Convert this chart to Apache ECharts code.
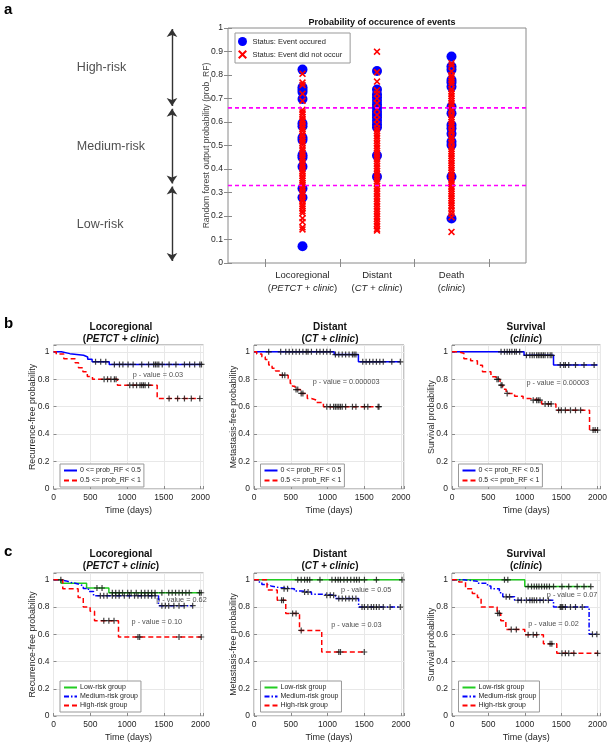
<!DOCTYPE html>
<html><head><meta charset="utf-8">
<script src="https://cdn.jsdelivr.net/npm/echarts@6/dist/echarts.min.js"></script>
<style>html,body{margin:0;padding:0;background:#fff}#c{width:610px;height:743px}</style>
</head><body><div id="c"></div><script>
// ---------- Panel a data ----------
const catPos = [1, 2, 3];
const catNames = ['Locoregional', 'Distant', 'Death'];
const catSub = ['PETCT + clinic', 'CT + clinic', 'clinic'];
const riskBounds = [1, 0.66, 0.33, 0];
const riskLabels = ['High-risk', 'Medium-risk', 'Low-risk'];
const thresholds = [0.66, 0.33];

const locoEvent = [0.823, 0.748, 0.737, 0.728, 0.698, 0.594, 0.582, 0.533, 0.523, 0.459, 0.449, 0.41, 0.317, 0.279, 0.071];
const locoNoEvent = [0.805, 0.768, 0.757, 0.72, 0.69, 0.652, 0.641, 0.633, 0.622, 0.611, 0.603, 0.592, 0.58, 0.571, 0.562, 0.55, 0.541, 0.529, 0.519, 0.511, 0.5, 0.488, 0.479, 0.47, 0.46, 0.449, 0.44, 0.428, 0.419, 0.41, 0.398, 0.389, 0.381, 0.37, 0.36, 0.351, 0.34, 0.331, 0.322, 0.311, 0.3, 0.292, 0.281, 0.27, 0.262, 0.25, 0.241, 0.232, 0.221, 0.212, 0.19, 0.175, 0.152, 0.143];
const distEvent = [0.817, 0.738, 0.718, 0.705, 0.69, 0.675, 0.66, 0.645, 0.632, 0.62, 0.605, 0.59, 0.578, 0.457, 0.367];
const distNoEvent = [0.899, 0.812, 0.772, 0.735, 0.72, 0.70, 0.68, 0.655, 0.63, 0.61, 0.59, 0.573, 0.562, 0.551, 0.54, 0.531, 0.52, 0.509, 0.498, 0.488, 0.477, 0.466, 0.455, 0.444, 0.434, 0.423, 0.412, 0.402, 0.391, 0.38, 0.37, 0.359, 0.348, 0.338, 0.327, 0.316, 0.305, 0.295, 0.284, 0.273, 0.262, 0.252, 0.241, 0.23, 0.22, 0.209, 0.198, 0.188, 0.177, 0.166, 0.156, 0.145, 0.138];
const deathEvent = [0.879, 0.836, 0.822, 0.779, 0.768, 0.75, 0.665, 0.637, 0.587, 0.573, 0.55, 0.516, 0.502, 0.367, 0.189];
const deathNoEvent = [0.85, 0.84, 0.815, 0.80, 0.79, 0.78, 0.77, 0.76, 0.74, 0.73, 0.72, 0.71, 0.70, 0.69, 0.68, 0.67, 0.655, 0.645, 0.63, 0.62, 0.61, 0.6, 0.59, 0.58, 0.565, 0.555, 0.54, 0.53, 0.52, 0.51, 0.495, 0.485, 0.475, 0.465, 0.455, 0.445, 0.435, 0.425, 0.415, 0.405, 0.395, 0.385, 0.375, 0.365, 0.355, 0.345, 0.335, 0.325, 0.315, 0.305, 0.295, 0.285, 0.275, 0.265, 0.255, 0.245, 0.235, 0.222, 0.21, 0.195, 0.132];

// ---------- Panel b data (times in days, survival) ----------
const bLocoLowT = [0, 107, 223, 409, 465, 525, 758, 2013];
const bLocoLowS = [1, 0.987, 0.975, 0.963, 0.947, 0.927, 0.908, 0.908];
const bLocoLowC = [572, 642, 711, 828, 897, 944, 1014, 1083, 1200, 1293, 1362, 1386, 1409, 1432, 1479, 1572, 1665, 1781, 1851, 1920, 1990, 2013];
const bLocoHighT = [0, 37, 140, 293, 340, 400, 460, 530, 870, 1410, 1990];
const bLocoHighS = [1, 0.985, 0.95, 0.92, 0.885, 0.855, 0.82, 0.80, 0.757, 0.66, 0.66];
const bLocoHighC = [688, 735, 781, 828, 851, 1037, 1083, 1130, 1176, 1200, 1223, 1246, 1293, 1572, 1688, 1781, 1874, 1990];

const bDistLowT = [0, 1090, 1420, 1990];
const bDistLowS = [1, 0.98, 0.927, 0.927];
const bDistLowC = [200, 363, 432, 479, 525, 572, 618, 665, 711, 735, 781, 851, 897, 944, 990, 1037, 1107, 1153, 1200, 1246, 1293, 1339, 1362, 1386, 1479, 1525, 1572, 1618, 1665, 1711, 1758, 1874, 1990];
const bDistHighT = [0, 37, 107, 153, 200, 246, 293, 353, 465, 493, 525, 558, 632, 725, 781, 851, 944, 1700];
const bDistHighS = [1, 0.985, 0.965, 0.945, 0.905, 0.88, 0.86, 0.83, 0.805, 0.77, 0.75, 0.725, 0.697, 0.66, 0.648, 0.63, 0.60, 0.60];
const bDistHighC = [386, 419, 572, 595, 642, 665, 990, 1037, 1083, 1107, 1130, 1153, 1176, 1200, 1246, 1339, 1386, 1502, 1548, 1688, 1700];

const bSurvLowT = [0, 990, 1395, 2000];
const bSurvLowS = [1, 0.975, 0.905, 0.905];
const bSurvLowC = [674, 721, 758, 791, 823, 860, 884, 930, 1023, 1070, 1102, 1130, 1163, 1186, 1209, 1232, 1256, 1279, 1316, 1349, 1372, 1488, 1535, 1558, 1604, 1697, 1814, 1953];
const bSurvHighT = [0, 93, 163, 256, 349, 419, 535, 605, 660, 698, 744, 860, 977, 1070, 1232, 1428, 1890, 2000];
const bSurvHighS = [1, 0.99, 0.95, 0.935, 0.903, 0.855, 0.818, 0.80, 0.757, 0.728, 0.697, 0.677, 0.66, 0.648, 0.62, 0.575, 0.43, 0.43];
const bSurvHighC = [618, 637, 674, 688, 758, 1116, 1163, 1186, 1209, 1279, 1325, 1362, 1465, 1502, 1558, 1628, 1697, 1767, 1939, 1967, 2000];

// ---------- Panel c data ----------
const cLocoLowT = [0, 102, 450, 753, 2009];
const cLocoLowS = [1, 0.975, 0.94, 0.905, 0.905];
const cLocoLowC = [591, 660, 800, 846, 893, 939, 1009, 1056, 1125, 1195, 1242, 1288, 1335, 1381, 1474, 1567, 1614, 1660, 1707, 1753, 1800, 1846, 1986, 2009];
const cLocoMedT = [0, 56, 172, 242, 335, 405, 475, 545, 1428, 1893];
const cLocoMedS = [1, 0.992, 0.98, 0.97, 0.956, 0.937, 0.915, 0.883, 0.81, 0.81];
const cLocoMedC = [637, 684, 730, 800, 846, 893, 963, 1032, 1102, 1149, 1195, 1242, 1288, 1335, 1381, 1474, 1521, 1567, 1637, 1707, 1777, 1893];
const cLocoHighT = [0, 126, 335, 405, 498, 558, 884, 2009];
const cLocoHighS = [1, 0.935, 0.87, 0.80, 0.77, 0.70, 0.58, 0.58];
const cLocoHighC = [100, 684, 753, 823, 1149, 1172, 1707, 2009];

const cDistLowT = [0, 2013];
const cDistLowS = [1, 1];
const cDistLowC = [595, 642, 688, 725, 758, 897, 1060, 1107, 1144, 1176, 1223, 1269, 1316, 1362, 1395, 1432, 1502, 1665, 2013];
const cDistMedT = [0, 60, 107, 177, 246, 360, 549, 642, 781, 921, 1107, 1423, 1990];
const cDistMedS = [1, 0.983, 0.966, 0.952, 0.942, 0.935, 0.918, 0.91, 0.894, 0.886, 0.862, 0.80, 0.80];
const cDistMedC = [409, 456, 688, 735, 990, 1037, 1083, 1153, 1200, 1246, 1293, 1339, 1386, 1469, 1502, 1548, 1595, 1628, 1665, 1702, 1758, 1851, 1990];
const cDistHighT = [0, 177, 316, 432, 619, 921, 1500];
const cDistHighS = [1, 0.925, 0.85, 0.753, 0.628, 0.47, 0.47];
const cDistHighC = [375, 400, 525, 572, 642, 1153, 1176, 1500];

const cSurvLowT = [0, 1000, 1907];
const cSurvLowS = [1, 0.95, 0.95];
const cSurvLowC = [721, 767, 1046, 1093, 1130, 1163, 1195, 1232, 1270, 1302, 1339, 1395, 1511, 1604, 1720, 1814, 1907];
const cSurvMedT = [0, 163, 349, 488, 535, 651, 698, 860, 1395, 1884, 1990];
const cSurvMedS = [1, 0.99, 0.975, 0.955, 0.935, 0.905, 0.875, 0.85, 0.80, 0.60, 0.60];
const cSurvMedC = [744, 791, 907, 953, 1023, 1070, 1102, 1130, 1163, 1209, 1256, 1325, 1488, 1502, 1521, 1558, 1628, 1697, 1790, 1930, 1990];
const cSurvHighT = [0, 93, 186, 279, 349, 400, 620, 670, 740, 1000, 1256, 1440, 2010];
const cSurvHighS = [1, 0.983, 0.935, 0.90, 0.87, 0.80, 0.754, 0.70, 0.636, 0.597, 0.53, 0.46, 0.46];
const cSurvHighC = [628, 651, 814, 884, 1046, 1116, 1163, 1348, 1372, 1511, 1558, 1604, 1674, 2000];

// p-value annotations [t, s, text]
const bLocoP = [[1420, 0.828, 'p - value = 0.03']];
const bDistP = [[1253, 0.777, 'p - value = 0.000003']];
const bSurvP = [[1453, 0.77, 'p - value = 0.00003']];
const cLocoP = [[1740, 0.854, 'p - value = 0.62'], [1405, 0.692, 'p - value = 0.10']];
const cDistP = [[1525, 0.928, 'p - value = 0.05'], [1393, 0.669, 'p - value = 0.03']];
const cSurvP = [[1650, 0.886, 'p - value = 0.07'], [1395, 0.676, 'p - value = 0.02']];

const xTicksKM = [0, 500, 1000, 1500, 2000];

// ---------- build ----------
const FONT = '"Liberation Sans", Arial, Helvetica, sans-serif';
const TXT = '#262626';
const BORDER = '#8a8a8a';
const NAME_EV = 'Status: Event occured';
const NAME_NEV = 'Status: Event did not occur';
const B_LOW = '0 <= prob_RF < 0.5', B_HIGH = '0.5 <= prob_RF < 1';
const C_LOW = 'Low-risk group', C_MED = 'Medium-risk group', C_HIGH = 'High-risk group';
const XSYM = 'path://M0,1.6L1.6,0L5,3.4L8.4,0L10,1.6L6.6,5L10,8.4L8.4,10L5,6.6L1.6,10L0,8.4L3.4,5Z';
const PLUS = 'path://M4,0H6V4H10V6H6V10H4V6H0V4H4Z';

const styleOf = {
  [B_LOW]: { color: '#0000ff', type: 'solid' },
  [B_HIGH]: { color: '#ff0000', type: [5, 3] },
  [C_LOW]: { color: '#22cc22', type: 'solid' },
  [C_MED]: { color: '#0000ff', type: [5, 2, 1.5, 2] },
  [C_HIGH]: { color: '#ff0000', type: [5, 3] }
};

function stepAt(T, S, t) {
  let v = S[0];
  for (let i = 0; i < T.length; i++) if (T[i] <= t) v = S[i];
  return v;
}

const kmPanels = [
  { left: 53.5, top: 345, tx: 116, ttop: 316, t1: 'Locoregional', t2: 'PETCT + clinic', yname: 'Recurrence-free probability',
    curves: [[B_LOW, bLocoLowT, bLocoLowS, bLocoLowC], [B_HIGH, bLocoHighT, bLocoHighS, bLocoHighC]], p: bLocoP, leg: [B_LOW, B_HIGH] },
  { left: 254, top: 345, tx: 325, ttop: 316, t1: 'Distant', t2: 'CT + clinic', yname: 'Metastasis-free probability',
    curves: [[B_LOW, bDistLowT, bDistLowS, bDistLowC], [B_HIGH, bDistHighT, bDistHighS, bDistHighC]], p: bDistP, leg: [B_LOW, B_HIGH] },
  { left: 452, top: 345, tx: 521, ttop: 316, t1: 'Survival', t2: 'clinic', yname: 'Survival probability',
    curves: [[B_LOW, bSurvLowT, bSurvLowS, bSurvLowC], [B_HIGH, bSurvHighT, bSurvHighS, bSurvHighC]], p: bSurvP, leg: [B_LOW, B_HIGH] },
  { left: 53.5, top: 573, tx: 116, ttop: 543, t1: 'Locoregional', t2: 'PETCT + clinic', yname: 'Recurrence-free probability',
    curves: [[C_LOW, cLocoLowT, cLocoLowS, cLocoLowC], [C_MED, cLocoMedT, cLocoMedS, cLocoMedC], [C_HIGH, cLocoHighT, cLocoHighS, cLocoHighC]], p: cLocoP, leg: [C_LOW, C_MED, C_HIGH] },
  { left: 254, top: 573, tx: 325, ttop: 543, t1: 'Distant', t2: 'CT + clinic', yname: 'Metastasis-free probability',
    curves: [[C_LOW, cDistLowT, cDistLowS, cDistLowC], [C_MED, cDistMedT, cDistMedS, cDistMedC], [C_HIGH, cDistHighT, cDistHighS, cDistHighC]], p: cDistP, leg: [C_LOW, C_MED, C_HIGH] },
  { left: 452, top: 573, tx: 521, ttop: 543, t1: 'Survival', t2: 'clinic', yname: 'Survival probability',
    curves: [[C_LOW, cSurvLowT, cSurvLowS, cSurvLowC], [C_MED, cSurvMedT, cSurvMedS, cSurvMedC], [C_HIGH, cSurvHighT, cSurvHighS, cSurvHighC]], p: cSurvP, leg: [C_LOW, C_MED, C_HIGH] }
];

const grids = [
  { left: 228, top: 28, width: 298, height: 235, show: true, borderColor: BORDER, borderWidth: 1 },
  { left: 60, top: 28, width: 140, height: 235 }
];
const xAxes = [
  { gridIndex: 0, type: 'value', min: 0, max: 4, position: 'bottom',
    axisLine: { show: false }, splitLine: { show: false },
    axisTick: { show: true, inside: true, length: 4, customValues: [0.5, 1.5, 2.5, 3.5], lineStyle: { color: BORDER } },
    axisLabel: { show: true, customValues: catPos, margin: 6, color: TXT, fontFamily: FONT,
      formatter: v => { const i = catPos.indexOf(v); return '{n|' + catNames[i] + '}\n{p|(}{i|' + catSub[i] + '}{p|)}'; },
      rich: { n: { fontSize: 9.5, lineHeight: 13, fontFamily: FONT, color: TXT },
              p: { fontSize: 9.5, lineHeight: 13, fontFamily: FONT, color: TXT },
              i: { fontSize: 9.5, lineHeight: 13, fontStyle: 'italic', fontFamily: FONT, color: TXT } } } },
  { gridIndex: 0, type: 'value', min: 0, max: 4, position: 'top',
    axisLine: { show: false }, splitLine: { show: false }, axisLabel: { show: false },
    axisTick: { show: true, inside: true, length: 4, customValues: [0.5, 1.5, 2.5, 3.5], lineStyle: { color: BORDER } } },
  { gridIndex: 1, type: 'value', min: 0, max: 1, show: false }
];
const yAxes = [
  { gridIndex: 0, type: 'value', min: 0, max: 1, interval: 0.1, position: 'left',
    name: 'Random forest output probability (prob_RF)', nameLocation: 'middle', nameGap: 17, nameMoveOverlap: false,
    nameTextStyle: { fontSize: 8.6, color: '#444', fontFamily: FONT },
    axisLine: { show: false }, splitLine: { show: false },
    axisTick: { show: true, inside: true, length: 4, lineStyle: { color: BORDER } },
    axisLabel: { color: TXT, fontSize: 8.6, fontFamily: FONT, margin: 5, formatter: v => String(+v.toFixed(1)) } },
  { gridIndex: 0, type: 'value', min: 0, max: 1, interval: 0.1, position: 'right',
    axisLine: { show: false }, splitLine: { show: false }, axisLabel: { show: false },
    axisTick: { show: true, inside: true, length: 4, lineStyle: { color: BORDER } } },
  { gridIndex: 1, type: 'value', min: 0, max: 1, show: false }
];

const series = [];
// panel a scatter
const evAll = [locoEvent, distEvent, deathEvent];
const nevAll = [locoNoEvent, distNoEvent, deathNoEvent];
series.push({ type: 'scatter', name: NAME_EV, xAxisIndex: 0, yAxisIndex: 0, symbol: 'circle', symbolSize: 10,
  itemStyle: { color: '#0000ff', opacity: 1 }, z: 3,
  data: evAll.flatMap((arr, i) => arr.map(v => [catPos[i], v])) });
series.push({ type: 'scatter', name: NAME_NEV, xAxisIndex: 0, yAxisIndex: 0, symbol: XSYM, symbolSize: 7,
  itemStyle: { color: '#ff0000', opacity: 1 }, z: 4,
  data: nevAll.flatMap((arr, i) => arr.map(v => [catPos[i], v])) });
thresholds.forEach(th => series.push({ type: 'line', xAxisIndex: 0, yAxisIndex: 0, symbol: 'none', silent: true, z: 5,
  lineStyle: { color: '#ff00ff', width: 1.6, type: [4, 3] }, data: [[0, th], [4, th]] }));

// arrows
series.push({ type: 'lines', coordinateSystem: 'cartesian2d', xAxisIndex: 2, yAxisIndex: 2,
  symbol: ['arrow', 'arrow'], symbolSize: 8, silent: true,
  lineStyle: { color: '#333', width: 1.4, opacity: 1 },
  data: riskLabels.map((_, i) => ({ coords: [[0.8, riskBounds[i] - 0.004], [0.8, riskBounds[i + 1] + 0.008]] })) });
series.push({ type: 'scatter', xAxisIndex: 2, yAxisIndex: 2, symbolSize: 0.1, silent: true,
  itemStyle: { color: 'transparent' },
  label: { show: true, position: 'right', distance: 0, formatter: p => p.data[2], fontSize: 12.5, color: '#222', fontFamily: FONT },
  data: riskLabels.map((l, i) => [0.12, (riskBounds[i] + riskBounds[i + 1]) / 2, l]) });

const titles = [{ text: 'Probability of occurence of events', left: 377, top: 13, textAlign: 'center',
  textStyle: { fontSize: 9, fontWeight: 'bold', color: '#111', fontFamily: FONT } }];
const legends = [{ data: [NAME_EV, NAME_NEV], left: 235, top: 33, orient: 'vertical', itemWidth: 10, itemHeight: 9, itemGap: 4,
  padding: [4, 8, 4, 3], borderColor: '#999', borderWidth: 1, backgroundColor: '#fff',
  textStyle: { fontSize: 7.5, color: TXT, fontFamily: FONT }, selectedMode: false }];

kmPanels.forEach((P, k) => {
  const gi = 2 + k, ai = 3 + k;
  grids.push({ left: P.left, top: P.top, width: 150, height: 144, show: true, borderColor: BORDER, borderWidth: 1 });
  xAxes.push({ gridIndex: gi, type: 'value', min: 0, max: 2040, interval: 500,
    name: 'Time (days)', nameLocation: 'middle', nameGap: 17, nameTextStyle: { fontSize: 9, color: TXT, fontFamily: FONT },
    axisLine: { show: false }, axisTick: { show: true, inside: true, length: 3, lineStyle: { color: BORDER } },
    splitLine: { show: true, lineStyle: { color: '#e8e8e8', width: 1 } },
    axisLabel: { fontSize: 8.5, color: TXT, fontFamily: FONT, margin: 4, formatter: v => xTicksKM.includes(v) ? String(v) : '' } });
  yAxes.push({ gridIndex: gi, type: 'value', min: 0, max: 1.05, interval: 0.2,
    name: P.yname, nameLocation: 'middle', nameGap: 16, nameMoveOverlap: false,
    nameTextStyle: { fontSize: 8.8, color: TXT, fontFamily: FONT },
    axisLine: { show: false }, axisTick: { show: true, inside: true, length: 3, lineStyle: { color: BORDER } },
    splitLine: { show: true, lineStyle: { color: '#e8e8e8', width: 1 } },
    axisLabel: { fontSize: 8.5, color: TXT, fontFamily: FONT, margin: 4, formatter: v => v > 1.01 ? '' : String(+v.toFixed(1)) } });
  P.curves.forEach(([name, T, S, C], j) => {
    const st = styleOf[name];
    series.push({ type: 'line', name, xAxisIndex: ai, yAxisIndex: ai, step: 'end', symbol: 'none', silent: true, z: 3 + j,
      lineStyle: { color: st.color, width: 1.5, type: st.type }, itemStyle: { color: st.color },
      data: T.map((t, i) => [t, S[i]]) });
    series.push({ type: 'scatter', xAxisIndex: ai, yAxisIndex: ai, symbol: PLUS, symbolSize: 6, silent: true, z: 8,
      itemStyle: { color: '#111' }, data: C.map(t => [t, stepAt(T, S, t)]) });
  });
  series.push({ type: 'scatter', xAxisIndex: ai, yAxisIndex: ai, symbolSize: 0.1, silent: true, z: 9,
    itemStyle: { color: 'transparent' },
    label: { show: true, position: 'inside', formatter: p => p.data[2], fontSize: 7.3, color: '#222', fontFamily: FONT },
    data: P.p });
  titles.push({ text: '{b|' + P.t1 + '}\n{b|(}{bi|' + P.t2 + '}{b|)}', left: P.tx, top: P.ttop, textAlign: 'center',
    textStyle: { rich: { b: { fontSize: 10, fontWeight: 'bold', lineHeight: 12, color: '#111', fontFamily: FONT },
                         bi: { fontSize: 10, fontWeight: 'bold', fontStyle: 'italic', lineHeight: 12, color: '#111', fontFamily: FONT } } } });
  const three = P.leg.length === 3;
  legends.push({ data: P.leg, left: P.left + 6.5, top: three ? 681 : 464, orient: 'vertical',
    itemWidth: 13, itemHeight: 6, itemGap: three ? 0 : 1, padding: [2, 3, 2, 3], borderColor: '#999', borderWidth: 1,
    backgroundColor: '#fff', selectedMode: false, itemStyle: { opacity: 0 },
    textStyle: { fontSize: 7, lineHeight: 9, color: TXT, fontFamily: FONT, padding: [0, 0, 0, -2] } });
});

const chart = echarts.init(document.getElementById('c'), null, { renderer: 'canvas' });
chart.setOption({
  animation: false,
  backgroundColor: '#fff',
  textStyle: { fontFamily: FONT },
  title: titles,
  legend: legends,
  grid: grids,
  xAxis: xAxes,
  yAxis: yAxes,
  series,
  graphic: [
    { type: 'text', left: 4, top: 2, style: { text: 'a', font: 'bold 15px ' + FONT, fill: '#000' } },
    { type: 'text', left: 4, top: 316, style: { text: 'b', font: 'bold 15px ' + FONT, fill: '#000' } },
    { type: 'text', left: 4, top: 544, style: { text: 'c', font: 'bold 15px ' + FONT, fill: '#000' } }
  ]
});
</script></body></html>
